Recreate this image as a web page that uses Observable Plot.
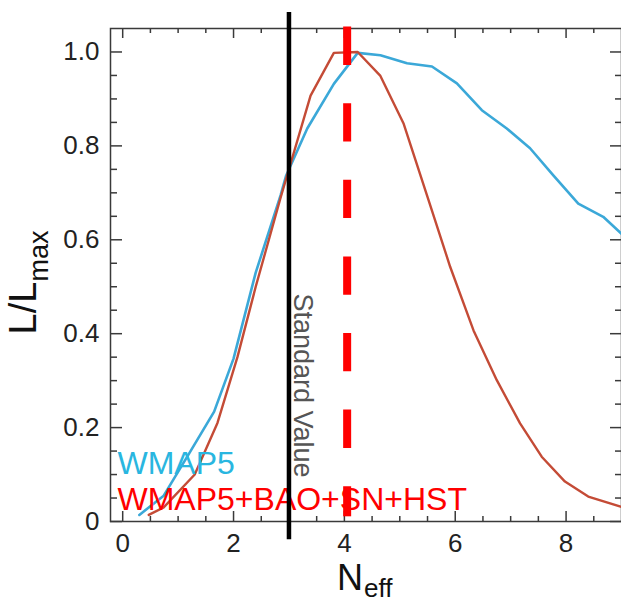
<!DOCTYPE html>
<html><head><meta charset="utf-8">
<script src="https://cdn.jsdelivr.net/npm/d3@7"></script>
<script src="https://cdn.jsdelivr.net/npm/@observablehq/plot@0.6"></script>
<style>body{margin:0;background:#fff} svg{display:block}</style>
</head><body><div id="chart"></div>
<script>
// WMAP5 alone (blue)
const wmap5N = [0.3, 0.74, 1.2, 1.65, 2.0, 2.4, 2.85, 2.95, 3.33, 3.81, 4.24, 4.65, 5.13, 5.58, 6.03, 6.48, 6.93, 7.35, 7.77, 8.22, 8.67, 9.0];
const wmap5L = [0.014, 0.055, 0.145, 0.234, 0.347, 0.53, 0.695, 0.737, 0.837, 0.932, 0.998, 0.993, 0.976, 0.969, 0.933, 0.876, 0.837, 0.795, 0.737, 0.677, 0.649, 0.613];
// WMAP5+BAO+SN+HST (red)
const fullN = [0.47, 0.74, 1.3, 1.71, 2.07, 2.4, 2.85, 3.39, 3.81, 4.24, 4.65, 5.07, 5.52, 5.91, 6.33, 6.75, 7.17, 7.56, 7.98, 8.4, 9.0];
const fullL = [0.014, 0.03, 0.10, 0.21, 0.35, 0.5, 0.69, 0.907, 0.998, 1.0, 0.949, 0.847, 0.684, 0.542, 0.407, 0.301, 0.209, 0.138, 0.085, 0.053, 0.031];

const standardValue = 3.0;
const bestFit = 4.05;

const xTicks = [0, 2, 4, 6, 8];
const xMinor = [0.5, 1, 1.5, 2.5, 3, 3.5, 4.5, 5, 5.5, 6.5, 7, 7.5, 8.5];
const yTicks = [0, 0.2, 0.4, 0.6, 0.8, 1.0];
const yTickLabels = ["0", "0.2", "0.4", "0.6", "0.8", "1.0"];
const yMinor = [0.05, 0.1, 0.15, 0.25, 0.3, 0.35, 0.45, 0.5, 0.55, 0.65, 0.7, 0.75, 0.85, 0.9, 0.95];

const seriesNames = ["WMAP5", "WMAP5+BAO+SN+HST"];
const curveColors = ["#3ba8d8", "#c44b36"];
const legendColors = ["#29b6e0", "#ff0000"];

const W = 621, H = 602, ML = 110, MR = 0, MT = 28, MB = 81;
const FW = W - ML - MR, FH = H - MT - MB;
const axisColor = "#3a3a3a";

const blue = wmap5N.map((n, i) => ({N: n, L: wmap5L[i]}));
const red = fullN.map((n, i) => ({N: n, L: fullL[i]}));

const chart = Plot.plot({
  width: W, height: H,
  marginLeft: ML, marginRight: MR, marginTop: MT, marginBottom: MB,
  x: {domain: [-0.22, 9]},
  y: {domain: [0, 1.05]},
  style: {fontFamily: "'Liberation Sans', Arial, Helvetica, sans-serif", background: "#fff", overflow: "visible"},
  marks: [
    // tick labels
    Plot.axisX(xTicks, {tickSize: 0, tickPadding: 12, fontSize: 26, color: "#222", label: null}),
    Plot.axisY(yTicks, {tickSize: 0, tickPadding: 11, fontSize: 26, color: "#222", label: null,
      tickFormat: (d) => yTickLabels[yTicks.indexOf(d)]}),
    // inward ticks: left
    Plot.tickY(yTicks, {y: d => d, insetRight: FW - 12, stroke: axisColor, strokeWidth: 1.5}),
    Plot.tickY(yMinor, {y: d => d, insetRight: FW - 7, stroke: axisColor, strokeWidth: 1.5}),
    // right
    Plot.tickY(yTicks, {y: d => d, insetLeft: FW - 11, stroke: axisColor, strokeWidth: 1.5}),
    Plot.tickY(yMinor, {y: d => d, insetLeft: FW - 6, stroke: axisColor, strokeWidth: 1.5}),
    // bottom
    Plot.tickX(xTicks, {x: d => d, insetTop: FH - 10, stroke: axisColor, strokeWidth: 1.5}),
    Plot.tickX(xMinor, {x: d => d, insetTop: FH - 5, stroke: axisColor, strokeWidth: 1.5}),
    // top
    Plot.tickX(xTicks, {x: d => d, insetBottom: FH - 10, stroke: axisColor, strokeWidth: 1.5}),
    Plot.tickX(xMinor, {x: d => d, insetBottom: FH - 5, stroke: axisColor, strokeWidth: 1.5}),
    Plot.frame({stroke: axisColor, strokeWidth: 1.5}),
    // curves
    Plot.line(blue, {x: "N", y: "L", stroke: curveColors[0], strokeWidth: 2.6}),
    Plot.line(red, {x: "N", y: "L", stroke: curveColors[1], strokeWidth: 2.4}),
    // legend
    Plot.text([seriesNames[0]], {text: d => d, frameAnchor: "bottom-left", textAnchor: "start", lineAnchor: "bottom",
      dx: 7, dy: -48, fontSize: 32, fill: legendColors[0]}),
    Plot.text([seriesNames[1]], {text: d => d, frameAnchor: "bottom-left", textAnchor: "start", lineAnchor: "bottom",
      dx: 7, dy: -12, fontSize: 32, fill: legendColors[1]}),
    // standard value annotation
    Plot.text(["Standard Value"], {x: [standardValue], text: d => d, frameAnchor: "top", rotate: 90,
      textAnchor: "start", lineAnchor: "bottom", dx: 5, dy: 265, fontSize: 27, fill: "#555"}),
    Plot.ruleX([standardValue], {x: d => d, y1: -0.039, y2: 1.084, stroke: "#000", strokeWidth: 4.5}),
    Plot.ruleX([bestFit], {x: d => d, y1: 1.053, y2: 0.01, stroke: "#ff0000", strokeWidth: 8, strokeDasharray: "38.3,38.3"}),
    // axis titles
    Plot.text(["L/L"], {text: d => d, frameAnchor: "left", rotate: -90, textAnchor: "start", lineAnchor: "bottom",
      dx: -75, dy: 59.5, fontSize: 38, fill: "#111"}),
    Plot.text(["max"], {text: d => d, frameAnchor: "left", rotate: -90, textAnchor: "start", lineAnchor: "bottom",
      dx: -63, dy: 6.5, fontSize: 27, fill: "#111"}),
    Plot.text(["N"], {text: d => d, frameAnchor: "bottom", textAnchor: "end", lineAnchor: "bottom",
      dx: -3, dy: 68, fontSize: 36, fill: "#111"}),
    Plot.text(["eff"], {text: d => d, frameAnchor: "bottom", textAnchor: "start", lineAnchor: "bottom",
      dx: -2, dy: 75, fontSize: 26, fill: "#111"})
  ]
});
document.getElementById("chart").appendChild(chart);
</script>
</body></html>
